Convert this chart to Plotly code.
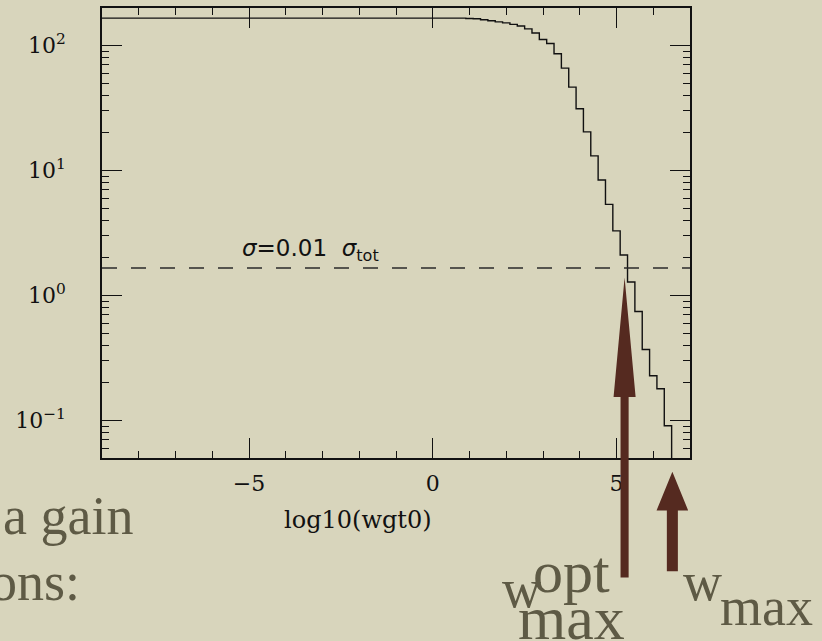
import math
import plotly.graph_objects as go

# ---------------- data ----------------
# left edges of the histogram bins, log10(wgt0)
bin_edges = [-9.0, 0.9, 1.1, 1.3, 1.5, 1.7, 1.9, 2.1, 2.3, 2.5, 2.7, 2.9, 3.1,
             3.3, 3.5, 3.7, 3.9, 4.1, 4.3, 4.5, 4.7, 4.9, 5.1, 5.3, 5.5, 5.7,
             5.9, 6.1, 6.3, 6.5]
# cumulative cross section above the weight threshold
sigma_values = [166, 165, 164, 161, 158, 155, 152, 148, 143.5, 136, 126, 112,
                104, 86, 66, 46.5, 31.2, 20.4, 13.1, 8.4, 5.36, 3.29, 2.11,
                1.28, 0.745, 0.369, 0.228, 0.179, 0.0906, 0]
sigma_tot = 166
threshold_fraction = 0.01
w_opt_log = 5.22     # log10 of w_max^opt
w_max_log = 6.52     # log10 of w_max

x_range = [-9, 7]
y_range = [0.05, 200]
x_tickvals = [-5, 0, 5]
x_ticktext = ["\u22125", "0", "5"]
y_tickvals = [0.1, 1, 10, 100]
y_ticktext = ["10<sup>\u22121</sup>", "10<sup>0</sup>", "10<sup>1</sup>", "10<sup>2</sup>"]

# ---------------- style ----------------
W, H = 822, 641
L, R, T, B = 102, 132, 6, 183
BG = "#d8d5bc"
INK = "#111111"
ARROW = "#552a20"
SLIDE_TXT = "#5e5a45"
SERIF = "DejaVu Serif"
SLIDE_FONT = "Liberation Serif"

pw, ph = W - L - R, H - T - B


def paper_x(px):
    return (px - L) / pw


def paper_y(py):
    return (H - B - py) / ph


floor = y_range[0] / 100.0
y_plot = [v if v > 0 else floor for v in sigma_values]
threshold = threshold_fraction * sigma_tot

fig = go.Figure()
fig.add_trace(go.Scatter(
    x=bin_edges, y=y_plot, mode="lines", line_shape="hv",
    line=dict(color=INK, width=1.4), showlegend=False, hoverinfo="skip"))
fig.add_trace(go.Scatter(
    x=x_range, y=[threshold, threshold], mode="lines",
    line=dict(color="#2a2a2a", width=1.4, dash="15px,14px"),
    showlegend=False, hoverinfo="skip"))

axis_common = dict(showline=True, linecolor=INK, linewidth=1.5, mirror="ticks",
                   ticks="inside", ticklen=20, tickwidth=1.3, tickcolor=INK,
                   showgrid=False, zeroline=False)

fig.update_xaxes(range=x_range, tickmode="array", tickvals=x_tickvals,
                 ticktext=x_ticktext,
                 tickfont=dict(family=SERIF, size=22, color=INK),
                 ticklabelstandoff=5,
                 minor=dict(ticks="inside", ticklen=7, tickwidth=1.2,
                            tickcolor=INK, dtick=1, tick0=0, showgrid=False),
                 **axis_common)
fig.update_yaxes(type="log", range=[math.log10(y_range[0]), math.log10(y_range[1])],
                 tickmode="array", tickvals=y_tickvals, ticktext=y_ticktext,
                 tickfont=dict(family=SERIF, size=22, color=INK),
                 ticklabelstandoff=30,
                 minor=dict(ticks="inside", ticklen=7, tickwidth=1.2,
                            tickcolor=INK, dtick="D1", showgrid=False),
                 **axis_common)

shapes = []
# arrow pointing at w_max^opt
hx1, sx1 = 0.30, 0.11
shapes.append(dict(
    type="path", xref="x", yref="paper", fillcolor=ARROW, line=dict(width=0),
    path=(f"M {w_opt_log - sx1} {paper_y(578)} L {w_opt_log - sx1} {paper_y(396.7)} "
          f"L {w_opt_log - hx1} {paper_y(396.7)} L {w_opt_log} {paper_y(276.7)} "
          f"L {w_opt_log + hx1} {paper_y(396.7)} L {w_opt_log + sx1} {paper_y(396.7)} "
          f"L {w_opt_log + sx1} {paper_y(578)} Z")))
# arrow pointing at w_max
hx2, sx2 = 0.43, 0.15
shapes.append(dict(
    type="path", xref="x", yref="paper", fillcolor=ARROW, line=dict(width=0),
    path=(f"M {w_max_log - sx2} {paper_y(571.7)} L {w_max_log - sx2} {paper_y(510.7)} "
          f"L {w_max_log - hx2} {paper_y(510.7)} L {w_max_log} {paper_y(471.7)} "
          f"L {w_max_log + hx2} {paper_y(510.7)} L {w_max_log + sx2} {paper_y(510.7)} "
          f"L {w_max_log + sx2} {paper_y(571.7)} Z")))

annotations = []
# threshold label
annotations.append(dict(
    x=-5.25, y=math.log10(threshold), xref="x", yref="y", xanchor="left",
    yanchor="bottom", yshift=1, showarrow=False,
    text="<i>\u03c3</i>=0.01  <i>\u03c3</i><sub>tot</sub>",
    font=dict(family="DejaVu Sans", size=23, color=INK)))
# x axis title
annotations.append(dict(
    x=paper_x(358), y=paper_y(520), xref="paper", yref="paper",
    xanchor="center", yanchor="middle", showarrow=False, text="log10(wgt0)",
    font=dict(family=SERIF, size=24, color=INK)))


def slide_text(text, left=None, right=None, baseline=0, size=50):
    # place the text box so that its baseline lands near the given pixel row
    y = paper_y(baseline + 0.22 * size)
    if right is not None:
        return dict(x=paper_x(right), y=y, xref="paper", yref="paper",
                    xanchor="right", yanchor="bottom", showarrow=False,
                    text=text, font=dict(family=SLIDE_FONT, size=size, color=SLIDE_TXT))
    return dict(x=paper_x(left), y=y, xref="paper", yref="paper",
                xanchor="left", yanchor="bottom", showarrow=False,
                text=text, font=dict(family=SLIDE_FONT, size=size, color=SLIDE_TXT))


annotations.append(slide_text("a gain", right=135, baseline=537, size=54))
annotations.append(slide_text("ons:", right=82, baseline=603, size=54))
annotations.append(slide_text("w", left=500, baseline=610, size=54))
annotations.append(slide_text("opt", left=531, baseline=594, size=60))
annotations.append(slide_text("max", left=516, baseline=641, size=62))
annotations.append(slide_text("w", left=681, baseline=603, size=54))
annotations.append(slide_text("max", left=718, baseline=628, size=54))

fig.update_layout(
    width=W, height=H, margin=dict(l=L, r=R, t=T, b=B, pad=0),
    paper_bgcolor=BG, plot_bgcolor=BG, showlegend=False,
    shapes=shapes, annotations=annotations)

fig.write_html(
    "out.html",
    config={"displayModeBar": False},
    post_script=("document.body.style.margin='0px';"
                 "document.body.style.padding='0px';"
                 "document.body.style.overflow='hidden';"
                 f"document.body.style.background='{BG}';"))
